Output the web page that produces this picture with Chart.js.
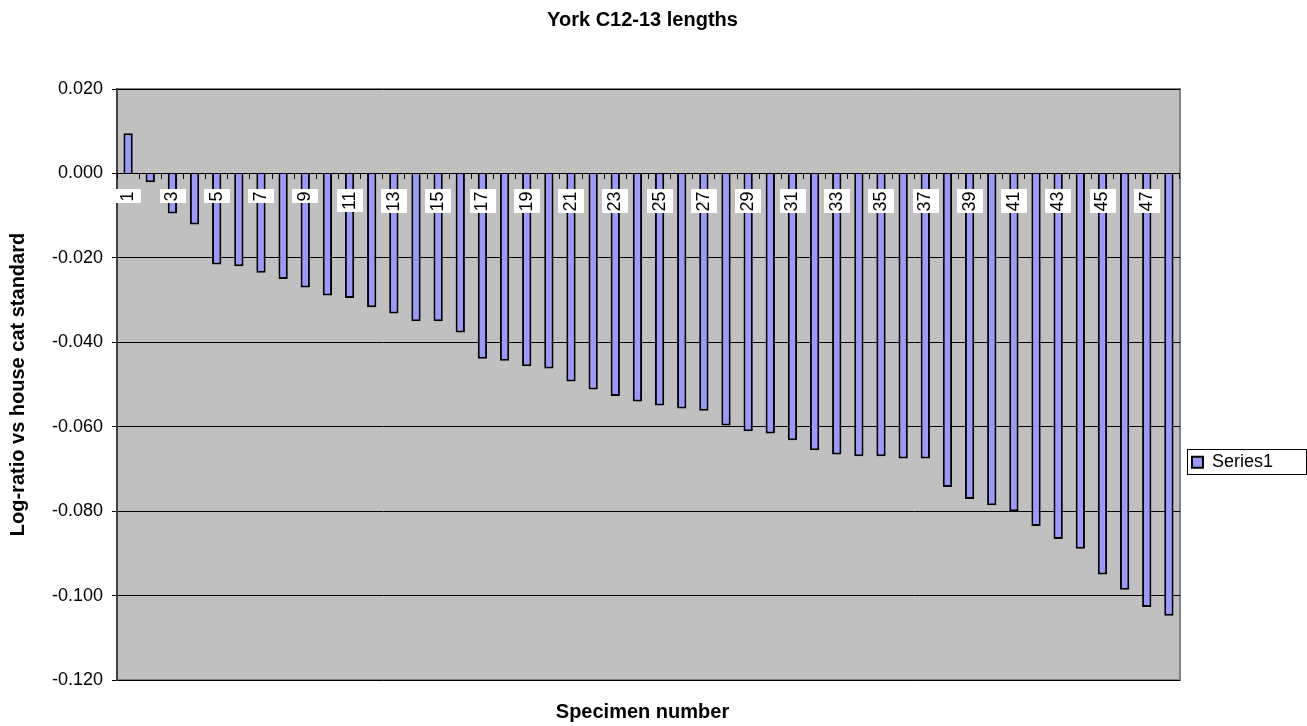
<!DOCTYPE html>
<html>
<head>
<meta charset="utf-8">
<title>York C12-13 lengths</title>
<script src="https://cdn.jsdelivr.net/npm/chart.js@4.4.1/dist/chart.umd.min.js"></script>
<style>
  body { margin: 0; background: #fff; }
  #wrap { width: 1307px; height: 726px; }
</style>
</head>
<body>
<div id="wrap"><canvas id="myChart" width="1307" height="726"></canvas></div>
<script>
const specimens = [
  "1", "2", "3", "4", "5", "6", "7", "8", "9", "10", "11", "12",
  "13", "14", "15", "16", "17", "18", "19", "20", "21", "22", "23", "24",
  "25", "26", "27", "28", "29", "30", "31", "32", "33", "34", "35", "36",
  "37", "38", "39", "40", "41", "42", "43", "44", "45", "46", "47", "48",
];
const series1 = [
  0.0095, -0.0021, -0.0095, -0.0121, -0.0216, -0.022, -0.0235, -0.025,
  -0.027, -0.0289, -0.0295, -0.0317, -0.0332, -0.035, -0.035, -0.0377,
  -0.0439, -0.0444, -0.0457, -0.0462, -0.0493, -0.0512, -0.0527, -0.054,
  -0.055, -0.0557, -0.0562, -0.0597, -0.0611, -0.0616, -0.0632, -0.0656,
  -0.0666, -0.067, -0.067, -0.0675, -0.0675, -0.0743, -0.0771, -0.0786,
  -0.08, -0.0835, -0.0866, -0.0889, -0.095, -0.0986, -0.1027, -0.1048,
];
const yMin = -0.12;
const yMax = 0.02;
const yStep = 0.02;

const FONT = "'Liberation Sans', Arial, sans-serif";
const X_TICK_SIZE = 18;
const X_TICK_LEN = 5;
const X_TICK_PAD = 13;

Chart.defaults.font.family = FONT;
Chart.defaults.color = "#000";

// grey plot area with a thin frame, like the old Excel default
const plotArea = {
  id: "plotArea",
  beforeDraw(chart) {
    const { ctx, chartArea: a } = chart;
    ctx.save();
    ctx.fillStyle = "#c0c0c0";
    ctx.fillRect(a.left, a.top, a.right - a.left, a.bottom - a.top);
    ctx.strokeStyle = "#808080";
    ctx.lineWidth = 2;
    ctx.strokeRect(a.left, a.top, a.right - a.left, a.bottom - a.top);
    ctx.restore();
  },
};

// white boxes behind the category labels, drawn over the bars
const tickBoxes = {
  id: "tickBoxes",
  afterDatasetsDraw(chart) {
    const xs = chart.scales.x;
    const ctx = chart.ctx;
    const lineH = X_TICK_SIZE * 1.2;
    const top = chart.scales.y.getPixelForValue(0) + X_TICK_LEN + X_TICK_PAD;
    ctx.save();
    ctx.font = `${X_TICK_SIZE}px ${FONT}`;
    ctx.fillStyle = "#fff";
    xs.ticks.forEach((t, i) => {
      if (!t.label) return;
      const w = ctx.measureText(t.label).width;
      const px = xs.getPixelForTick(i);
      ctx.fillRect(Math.round(px - lineH / 2 - 2), Math.round(top - 2), Math.round(lineH + 4), Math.round(w + 4));
    });
    ctx.restore();
  },
};

// box round the legend entry
const legendFrame = {
  id: "legendFrame",
  afterDraw(chart) {
    const hit = chart.legend.legendHitBoxes[0];
    if (!hit) return;
    const ctx = chart.ctx;
    ctx.save();
    ctx.strokeStyle = "#000";
    ctx.lineWidth = 1;
    ctx.strokeRect(
      Math.round(hit.left) - 4.5,
      Math.round(hit.top) - 3.5,
      chart.width - hit.left + 4,
      hit.height + 7
    );
    ctx.restore();
  },
};

new Chart(document.getElementById("myChart"), {
  type: "bar",
  data: {
    labels: specimens,
    datasets: [
      {
        label: "Series1",
        data: series1,
        backgroundColor: "#9999ff",
        borderColor: "#000",
        borderWidth: 2,
        barPercentage: 0.42,
        categoryPercentage: 1,
      },
    ],
  },
  options: {
    responsive: false,
    animation: false,
    layout: { padding: { left: 2, right: 24, top: 0, bottom: 2 } },
    plugins: {
      title: {
        display: true,
        text: "York C12-13 lengths",
        font: { size: 20, weight: "bold" },
        padding: { top: 8, bottom: 57 },
      },
      subtitle: {
        display: true,
        position: "bottom",
        text: "Specimen number",
        font: { size: 20, weight: "bold" },
        padding: { top: 20, bottom: 0 },
      },
      legend: {
        position: "right",
        title: { display: true, text: "", padding: { top: 186, bottom: 0 } },
        labels: {
          boxWidth: 11,
          boxHeight: 11,
          padding: 12,
          font: { size: 18 },
        },
      },
      tooltip: { enabled: false },
    },
    scales: {
      x: {
        position: { y: 0 },
        offset: true,
        grid: {
          offset: true,
          drawOnChartArea: false,
          color: "#000",
          tickLength: X_TICK_LEN,
          z: 1,
        },
        border: { color: "#000", width: 1, z: 1 },
        ticks: {
          z: 1,
          autoSkip: false,
          minRotation: 90,
          maxRotation: 90,
          padding: X_TICK_PAD,
          font: { size: X_TICK_SIZE },
          callback: (v, i) => (i % 2 === 0 ? specimens[i] : ""),
        },
      },
      y: {
        min: yMin,
        max: yMax,
        grid: { color: "#000", tickLength: 5 },
        border: { color: "#404040", width: 2 },
        ticks: {
          stepSize: yStep,
          padding: 9,
          font: { size: 18 },
          callback: (v) => (Math.abs(v) < 1e-9 ? 0 : v).toFixed(3),
        },
        title: {
          display: true,
          text: "Log-ratio vs house cat standard",
          font: { size: 20, weight: "bold" },
          padding: { top: 4, bottom: 13 },
        },
      },
    },
  },
  plugins: [plotArea, tickBoxes, legendFrame],
});
</script>
</body>
</html>
